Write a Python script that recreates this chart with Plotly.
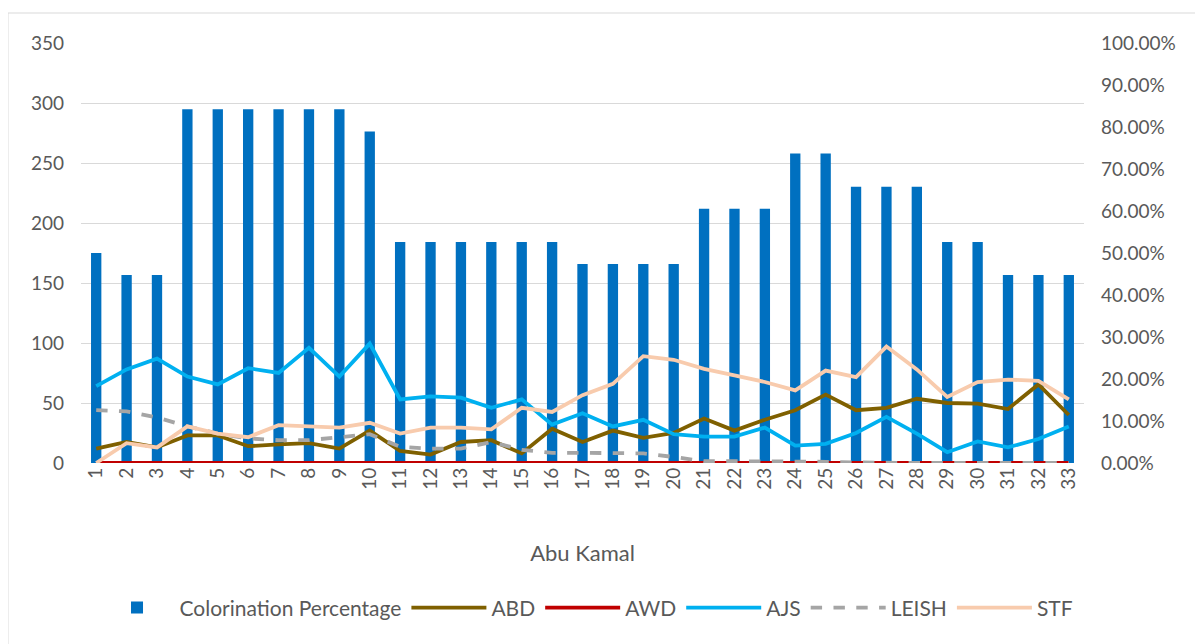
import plotly.graph_objects as go

categories = [str(i) for i in range(1, 34)]

colorination_pct = [0.5000, 0.4474, 0.4474, 0.8421, 0.8421, 0.8421, 0.8421, 0.8421, 0.8421, 0.7895,
                    0.5263, 0.5263, 0.5263, 0.5263, 0.5263, 0.5263, 0.4737, 0.4737, 0.4737, 0.4737,
                    0.6053, 0.6053, 0.6053, 0.7368, 0.7368, 0.6579, 0.6579, 0.6579, 0.5263, 0.5263,
                    0.4474, 0.4474, 0.4474]

abd = [12, 17.5, 13, 23, 23, 14, 15.5, 16.5, 12, 27, 10, 7, 17.5, 19, 8, 28.5, 17.5, 27, 21, 25,
       37, 27, 36, 44, 57, 44, 46, 53.5, 50, 49.5, 45, 65.5, 40]
awd = [0] * 33
ajs = [64, 78, 87, 72, 65.5, 79, 75, 96, 72, 99.5, 53, 55.5, 54.5, 46, 53, 32, 41.5, 30.5, 36, 24,
       22, 22, 29.5, 14.5, 16, 25, 38.5, 24.5, 9, 18, 13, 20, 30.5]
leish = [44, 43, 38, 30.5, 24.5, 20.5, 19, 19, 21.5, 24, 13.5, 12, 12, 17.5, 11, 8.5, 8.5, 8.5, 8, 5,
         1.5, 1.5, 1.5, 1, 1, 0.5, 0, 0, 0, 0, 0, 0, 0]
stf = [0, 16.5, 13, 30.5, 24.5, 21.5, 31.5, 30.5, 29.5, 33.5, 24.5, 29.5, 29.5, 28, 46, 42.5, 56.5, 66, 89, 86,
       78.5, 73, 67.5, 60.5, 77, 71.5, 97, 78, 55, 67.5, 69.5, 68.5, 53]

FONT = "Lato"
GRAY_TXT = "#595959"

fig = go.Figure()

fig.add_trace(go.Bar(x=categories, y=colorination_pct, name="Colorination Percentage",
                     marker=dict(color="#0070C0", line=dict(width=0)), width=0.34, yaxis="y"))

line_specs = [
    ("ABD", abd, "#7F6000", "solid"),
    ("AWD", awd, "#C00000", "solid"),
    ("AJS", ajs, "#00B0F0", "solid"),
    ("LEISH", leish, "#A5A5A5", "dash"),
    ("STF", stf, "#F8CBAD", "solid"),
]
for name, vals, col, dash in line_specs:
    fig.add_trace(go.Scatter(x=categories, y=vals, name=name, mode="lines", yaxis="y2",
                             line=dict(color=col, width=3.8, dash=dash)))

# page body adds an 8px offset, so the figure is 8px smaller and margins shifted
fig.update_layout(
    width=1195, height=636,
    margin=dict(l=73, r=119, t=35, b=181),
    paper_bgcolor="white", plot_bgcolor="white",
    font=dict(family=FONT, color=GRAY_TXT, size=19),
    bargap=0.66,
    xaxis=dict(type="category", tickangle=-90, showgrid=False, showline=False, ticks="",
               tickfont=dict(size=19, color=GRAY_TXT),
               title=dict(text="Abu Kamal", font=dict(size=22, color=GRAY_TXT), standoff=56)),
    yaxis=dict(side="right", range=[0, 1], dtick=0.1, tickformat=".2%", showgrid=False,
               zeroline=False, showline=False, ticklabelstandoff=16,
               tickfont=dict(size=19, color=GRAY_TXT)),
    yaxis2=dict(side="left", overlaying="y", range=[0, 350], dtick=50, showgrid=True,
                gridcolor="#D9D9D9", gridwidth=1, zeroline=False, showline=False,
                ticklabelstandoff=16, tickfont=dict(size=19, color=GRAY_TXT)),
    legend=dict(orientation="h", x=0.504, xanchor="center", y=-0.345, yanchor="middle",
                font=dict(size=21, color=GRAY_TXT), itemwidth=75, traceorder="normal"),
    showlegend=True,
)

fig.add_shape(type="rect", xref="paper", yref="paper", x0=-0.0728, x1=1.13, y0=-0.48, y1=1.0714,
              line=dict(color="#D9D9D9", width=1), fillcolor="rgba(0,0,0,0)", layer="below")

fig.write_html("out.html")
